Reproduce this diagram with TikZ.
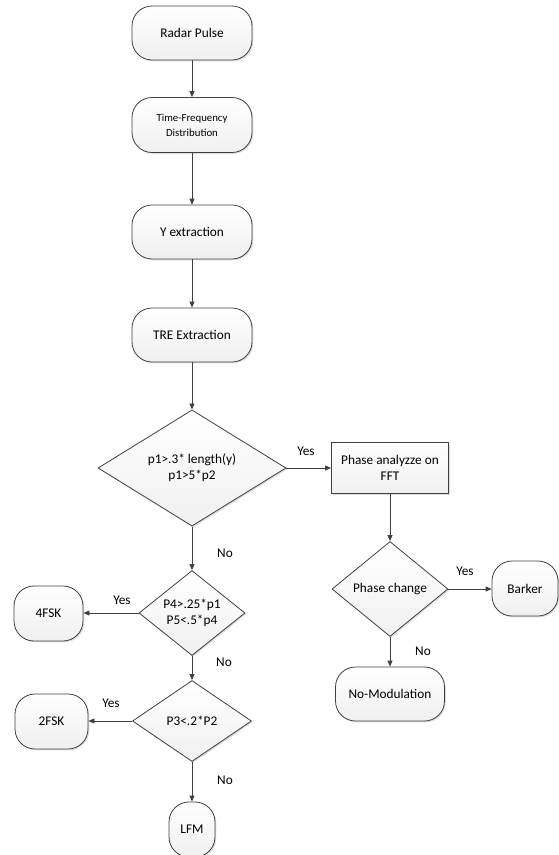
\documentclass[tikz,border=0pt]{standalone}
\usepackage{fontspec}
\setmainfont{Carlito}
\usetikzlibrary{shapes.geometric,arrows.meta,shadows}
\definecolor{lc}{HTML}{404040}
\tikzset{
  base/.style={draw=lc, line width=0.8pt, top color=white, bottom color=gray!12, text=black,
    inner sep=0pt, align=center, font=\fontsize{13.3}{16}\selectfont,
    drop shadow={shadow xshift=1.3pt, shadow yshift=-1.3pt, fill=gray!45, opacity=0.6}},
  term/.style={base, rectangle, rounded corners=20pt, minimum height=54pt},
  procbox/.style={base, rectangle},
  decide/.style={base, diamond},
  arr/.style={draw=lc, line width=0.8pt, -{Triangle[width=5pt,length=6pt]}},
  lbl/.style={font=\fontsize{13.3}{16}\selectfont, text=black}
}
\begin{document}
\begin{tikzpicture}[x=1pt,y=-1pt]
\path[use as bounding box] (0,0) rectangle (558,855);
\node[term, minimum width=120pt] (rp) at (192,33) {Radar Pulse};
\node[term, minimum width=120pt, minimum height=55pt, font=\fontsize{10.8}{15}\selectfont] (tfd) at (192,125) {Time-Frequency\\Distribution};
\node[term, minimum width=120pt] (yx) at (192,232) {Y extraction};
\node[term, minimum width=120pt] (tre) at (192,335) {TRE Extraction};
\node[decide, minimum width=188pt, minimum height=112pt] (d1) at (192,468) {p1>.3* length(y)\\p1>5*p2};
\node[procbox, minimum width=117pt, minimum height=51pt] (ph) at (390,468) {Phase analyzze on\\FFT};
\node[decide, minimum width=116pt, minimum height=95pt] (pc) at (390,589) {Phase change};
\node[term, minimum width=66pt, minimum height=55pt] (bk) at (525,588.5) {Barker};
\node[term, minimum width=109pt] (nm) at (390,694) {No-Modulation};
\node[decide, minimum width=106pt, minimum height=82pt] (d2) at (192,613) {P4>.25*p1\\P5<.5*p4};
\node[term, minimum width=69pt, minimum height=55pt] (f4) at (48.5,613.5) {4FSK};
\node[decide, minimum width=119pt, minimum height=81pt] (d3) at (192,721) {P3<.2*P2};
\node[term, minimum width=73pt, minimum height=55pt] (f2) at (51.5,721.5) {2FSK};
\node[term, minimum width=46pt, minimum height=55pt] (lfm) at (192,829.5) {LFM};

\draw[arr] (rp) -- (tfd);
\draw[arr] (tfd) -- (yx);
\draw[arr] (yx) -- (tre);
\draw[arr] (tre) -- (d1);
\draw[arr] (d1.east) -- (ph.west);
\draw[arr] (ph) -- (pc);
\draw[arr] (pc.east) -- (bk.west |- pc.east);
\draw[arr] (pc) -- (nm);
\draw[arr] (d1) -- (d2);
\draw[arr] (d2.west) -- (f4.east |- d2.west);
\draw[arr] (d2) -- (d3);
\draw[arr] (d3.west) -- (f2.east |- d3.west);
\draw[arr] (d3) -- (lfm);

\node[lbl] (y1) at (306,451) {Yes};
\node[lbl] (n1) at (225,553) {No};
\node[lbl] (y2) at (465,571) {Yes};
\node[lbl] (n2) at (423,651) {No};
\node[lbl] (y3) at (122,600) {Yes};
\node[lbl] (n3) at (224,662) {No};
\node[lbl] (y4) at (111,703) {Yes};
\node[lbl] (n4) at (225,780) {No};
\end{tikzpicture}
\end{document}
